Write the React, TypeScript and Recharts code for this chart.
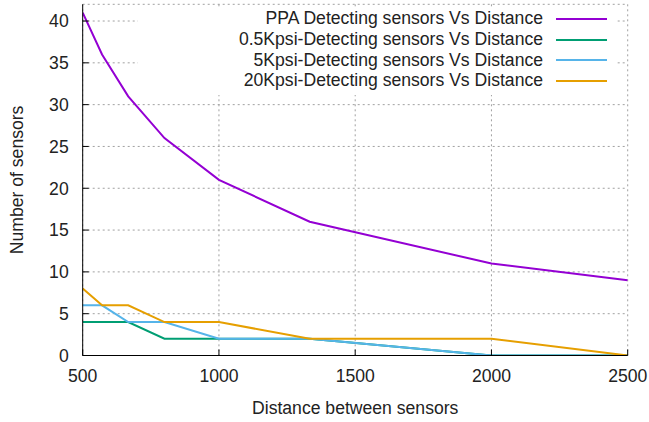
import React from 'react';
import {
  LineChart, Line, XAxis, YAxis, CartesianGrid, Legend, Label,
} from 'recharts';

// distance between sensors and detected sensor counts
const distances = [500, 571, 667, 800, 1000, 1333, 2000, 2500];
const ppaCounts = [41, 36, 31, 26, 21, 16, 11, 9];
const k05Counts = [4, 4, 4, 2, 2, 2, 0, 0];
const k5Counts = [6, 6, 4, 4, 2, 2, 0, 0];
const k20Counts = [8, 6, 6, 4, 4, 2, 2, 0];

const xTicks = [500, 1000, 1500, 2000, 2500];
const yTicks = [0, 5, 10, 15, 20, 25, 30, 35, 40];

const SERIES = [
  { key: 'ppa', name: 'PPA Detecting sensors Vs Distance', color: '#9400d3' },
  { key: 'k05', name: '0.5Kpsi-Detecting sensors Vs Distance', color: '#009e73' },
  { key: 'k5', name: '5Kpsi-Detecting sensors Vs Distance', color: '#56b4e9' },
  { key: 'k20', name: '20Kpsi-Detecting sensors Vs Distance', color: '#e69f00' },
];

const data = distances.map((d, i) => ({
  x: d,
  ppa: ppaCounts[i],
  k05: k05Counts[i],
  k5: k5Counts[i],
  k20: k20Counts[i],
}));

const FONT = '"Liberation Sans", Arial, sans-serif';
const FS = 17.6;
const TEXT = '#222';
const TICK = 6;
const X_MARGIN = 14;
const Y_MARGIN = 14;

function BottomTick(props: any) {
  const { x, y, payload } = props;
  return (
    <g>
      <line x1={x} x2={x} y1={y - X_MARGIN} y2={y - X_MARGIN - TICK} stroke="#000" />
      <text x={x} y={y} dy="0.71em" textAnchor="middle" fontSize={FS} fontFamily={FONT} fill={TEXT}>
        {payload.value}
      </text>
    </g>
  );
}

function LeftTick(props: any) {
  const { x, y, payload } = props;
  return (
    <g>
      <line x1={x + Y_MARGIN} x2={x + Y_MARGIN + TICK} y1={y} y2={y} stroke="#000" />
      <text x={x} y={y} dy="0.355em" textAnchor="end" fontSize={FS} fontFamily={FONT} fill={TEXT}>
        {payload.value}
      </text>
    </g>
  );
}

function TopTick(props: any) {
  const { x, y } = props;
  return <line x1={x} x2={x} y1={y} y2={y + TICK} stroke="#000" />;
}

function RightTick(props: any) {
  const { x, y } = props;
  return <line x1={x} x2={x - TICK} y1={y} y2={y} stroke="#000" />;
}

function KeyBox() {
  return (
    <div style={{ background: '#fff', width: '100%', height: '100%', boxSizing: 'border-box', paddingRight: 10 }}>
      {SERIES.map(s => (
        <div key={s.key} style={{ display: 'flex', justifyContent: 'flex-end', alignItems: 'center', height: 20.7 }}>
          <span style={{ fontFamily: FONT, fontSize: FS, color: TEXT, whiteSpace: 'nowrap' }}>{s.name}</span>
          <div style={{ width: 51, height: 2, background: s.color, marginLeft: 13 }} />
        </div>
      ))}
    </div>
  );
}

export default function App() {
  return (
    <div style={{ position: 'absolute', left: 0, top: 0, width: 649, height: 422, background: '#fff' }}>
      <LineChart width={649} height={422} data={data} margin={{ top: 4.3, right: 21.3, bottom: 0, left: 0 }}>
        <CartesianGrid stroke="#a0a0a0" strokeDasharray="2 3" />
        <XAxis
          dataKey="x" type="number" domain={[500, 2500]} allowDataOverflow ticks={xTicks} interval={0}
          height={66.5} tickSize={0} tickMargin={X_MARGIN} tickLine={false}
          axisLine={{ stroke: '#000' }} tick={<BottomTick />}
        >
          <Label value="Distance between sensors" position="insideBottom" offset={8}
            style={{ fontFamily: FONT, fontSize: FS, fill: TEXT }} />
        </XAxis>
        <XAxis
          xAxisId="top" orientation="top" type="number" domain={[500, 2500]} allowDataOverflow ticks={xTicks}
          interval={0} height={0} tickSize={0} tickMargin={0} tickLine={false}
          axisLine={{ stroke: '#000' }} tick={<TopTick />}
        />
        <YAxis
          type="number" domain={[0, 42]} allowDataOverflow ticks={yTicks} interval={0}
          width={82.7} tickSize={0} tickMargin={Y_MARGIN} tickLine={false}
          axisLine={{ stroke: '#000' }} tick={<LeftTick />}
        >
          <Label value="Number of sensors" angle={-90} position="insideLeft" offset={17}
            style={{ fontFamily: FONT, fontSize: FS, fill: TEXT, textAnchor: 'middle' }} />
        </YAxis>
        <YAxis
          yAxisId="right" orientation="right" type="number" domain={[0, 42]} allowDataOverflow ticks={yTicks}
          interval={0} width={0} tickSize={0} tickMargin={0} tickLine={false}
          axisLine={{ stroke: '#000' }} tick={<RightTick />}
        />
        {SERIES.map(s => (
          <Line key={s.key} type="linear" dataKey={s.key} name={s.name} stroke={s.color}
            strokeWidth={2} dot={false} activeDot={false} isAnimationActive={false} />
        ))}
        <Legend
          layout="horizontal" verticalAlign="middle" align="center"
          wrapperStyle={{ left: 138, top: 8.5, width: 479, height: 86 }}
          content={() => <KeyBox />}
        />
      </LineChart>
    </div>
  );
}
